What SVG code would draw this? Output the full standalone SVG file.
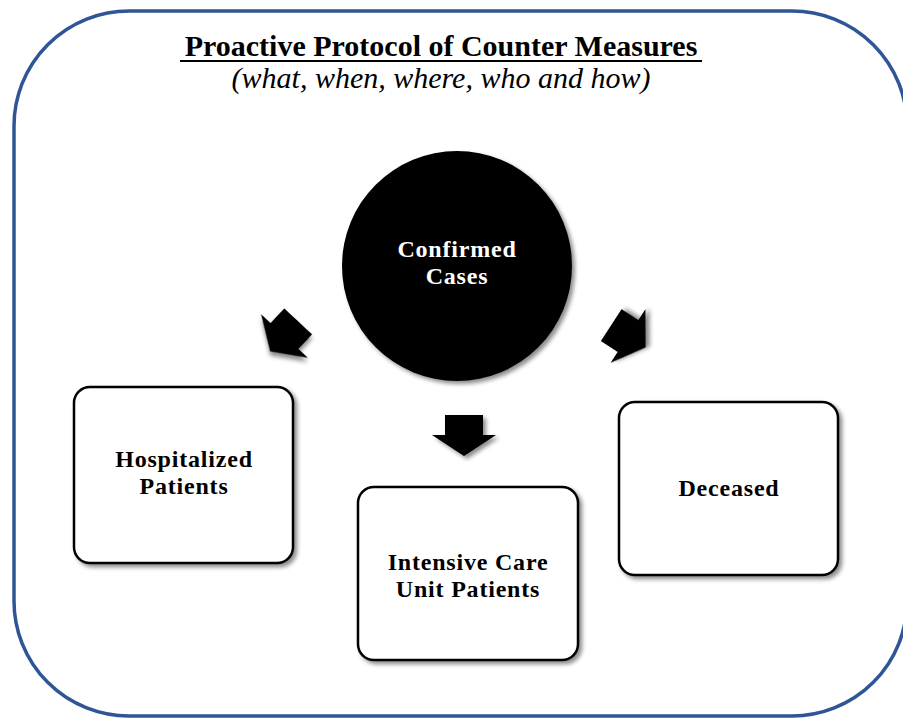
<svg xmlns="http://www.w3.org/2000/svg" width="903" height="718" viewBox="0 0 903 718">
  <defs>
    <filter id="sh" x="-20%" y="-20%" width="150%" height="150%">
      <feDropShadow dx="3" dy="3" stdDeviation="2" flood-color="#000" flood-opacity="0.45"/>
    </filter>
    <path id="blockArrow" d="M-19,-20 L19,-20 L19,0 L32,0 L0,21 L-32,0 L-19,0 Z"/>
  </defs>
  <style>
    .frame { fill: #fff; stroke: #2F5597; stroke-width: 3.5; }
    .box { fill: #fff; stroke: #000; stroke-width: 2.5; filter: url(#sh); }
    .lbl { font-family: "Liberation Serif", "Times New Roman", serif; font-weight: bold; font-size: 24px; letter-spacing: 0.8px; text-anchor: middle; fill: #000; }
    .lblw { fill: #fff; }
    .title { font-family: "Liberation Serif", "Times New Roman", serif; font-weight: bold; font-size: 30px; text-anchor: middle; fill: #000; }
    .sub { font-family: "Liberation Serif", "Times New Roman", serif; font-style: italic; font-size: 30px; text-anchor: middle; fill: #000; }
    .arrow { fill: #000; filter: url(#sh); }
  </style>

  <rect class="frame" x="14" y="11" width="893" height="705" rx="115" ry="115"/>

  <g id="title">
    <text class="title" x="441" y="56">Proactive Protocol of Counter Measures</text>
    <line x1="180" y1="61" x2="702" y2="61" stroke="#000" stroke-width="2"/>
    <text class="sub" x="441" y="88">(what, when, where, who and how)</text>
  </g>

  <g id="connectors">
    <use href="#blockArrow" class="arrow" transform="translate(284.5,336) rotate(43)"/>
    <use href="#blockArrow" class="arrow" transform="translate(464,435)"/>
    <use href="#blockArrow" class="arrow" transform="translate(628,336) rotate(-57)"/>
  </g>

  <g id="confirmed">
    <circle cx="457" cy="266" r="115" fill="#000" filter="url(#sh)"/>
    <text class="lbl lblw" x="457" y="257">Confirmed</text>
    <text class="lbl lblw" x="457" y="284">Cases</text>
  </g>

  <g id="hospitalized">
    <rect class="box" x="74" y="387" width="219" height="176" rx="16" ry="16"/>
    <text class="lbl" x="184" y="467">Hospitalized</text>
    <text class="lbl" x="184" y="494">Patients</text>
  </g>

  <g id="icu">
    <rect class="box" x="358" y="487" width="220" height="173" rx="16" ry="16"/>
    <text class="lbl" x="468" y="570">Intensive Care</text>
    <text class="lbl" x="468" y="597">Unit Patients</text>
  </g>

  <g id="deceased">
    <rect class="box" x="619" y="402" width="219" height="173" rx="16" ry="16"/>
    <text class="lbl" x="729" y="496">Deceased</text>
  </g>
</svg>
